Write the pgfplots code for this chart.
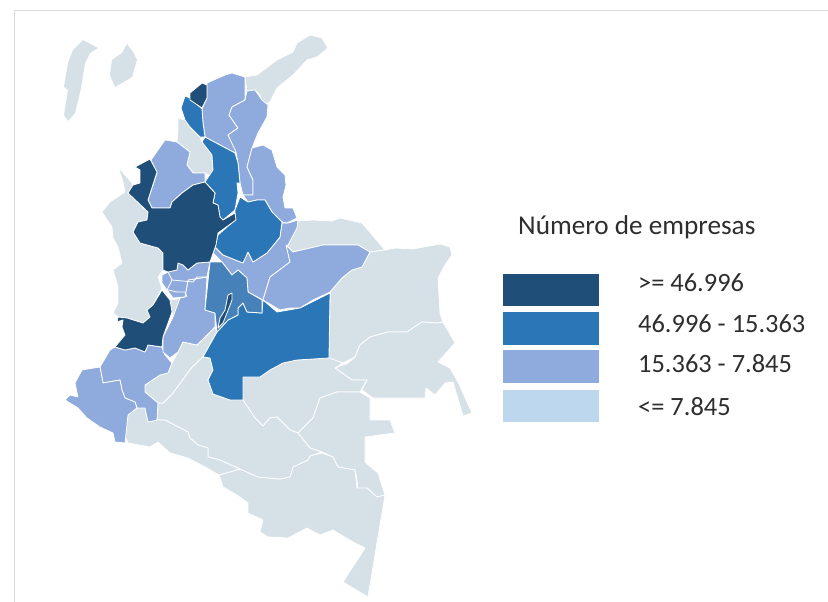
\documentclass[border=0pt]{standalone}
\usepackage{fontspec}
\setmainfont{Carlito}
\usepackage{pgfplots}
\pgfplotsset{compat=1.18}
\definecolor{cA}{HTML}{1F4E79}
\definecolor{cB}{HTML}{2B76B6}
\definecolor{cB2}{HTML}{4682B9}
\definecolor{cC}{HTML}{8FAADC}
\definecolor{cG}{HTML}{D6E0E7}
\definecolor{cL}{HTML}{BDD7EE}
\definecolor{fr}{HTML}{DADADA}
\pgfplotsset{
 reg/.style={draw=white,line width=0.8pt,line join=round,fill=#1,forget plot,mark=none},
 bnd/.style={draw=white,line width=0.8pt,line join=round,forget plot,mark=none},
 sw/.style={draw=none,fill=#1,forget plot,mark=none}}
\begin{document}
\begin{tikzpicture}
\begin{axis}[
 scale only axis,width=828pt,height=602pt,
 xmin=0,xmax=828,ymin=0,ymax=602,y dir=reverse,
 hide axis,clip=true]
% page area
\addplot[sw=white] coordinates {(0,0)(828,0)(828,602)(0,602)} --cycle;
% frame
\addplot[draw=fr,line width=0.8pt,forget plot,mark=none] coordinates {(14,602)(14,10)(828,10)};
% islands
\addplot[sw=cG] coordinates {(83,40)(98,48)(90,53)(85,63)(81,88)(75,113)(68,121)(64,115)(68,90)(64,87)(68,63)(73,50)} --cycle;
\addplot[sw=cG] coordinates {(127,44)(133,52)(137,60)(132,77)(115,87)(110,75)(112,60)(122,53)} --cycle;
% gray departments
\addplot[reg=cG] coordinates {(245,77)(257,75)(277,60)(293,52)(297,43)(310,35)(322,38)(328,48)(317,57)(307,60)(293,75)(277,88)(270,102)(263,105)(260,95)(255,90)(247,92)} --cycle;
\addplot[reg=cG] coordinates {(178,118)(185,120)(190,127)(200,137)(202,142)(212,155)(213,170)(212,177)(205,173)(193,173)(187,165)(190,152)(177,142)(178,130)} --cycle;
\addplot[reg=cG] coordinates {(118,167)(125,175)(132,183)(133,190)(128,193)(148,212)(147,220)(138,222)(133,232)(140,243)(158,248)(163,253)(163,270)(158,277)(162,288)(153,305)(147,310)(150,317)(143,323)(127,318)(118,317)(113,313)(118,303)(118,287)(113,270)(122,263)(118,247)(113,238)(112,227)(102,212)(110,202)(125,192)(123,182)} --cycle;
\addplot[reg=cG] coordinates {(298,221)(313,220)(332,221)(340,218)(362,223)(385,250)(370,252)(358,245)(323,245)(293,252)(286,245)(293,228)} --cycle;
\addplot[reg=cG] coordinates {(330,292)(342,278)(352,270)(362,267)(370,252)(385,250)(395,248)(413,249)(440,244)(450,247)(452,255)(445,265)(438,278)(440,313)(443,322)(437,323)(422,322)(407,332)(388,332)(370,337)(360,345)(355,357)(343,363)(329,359)} --cycle;
\addplot[reg=cG] coordinates {(443,322)(455,343)(438,362)(450,368)(458,382)(472,413)(463,416)(453,382)(445,383)(435,395)(426,388)(425,398)(373,398)(362,390)(367,380)(352,380)(335,368)(348,363)(355,357)(360,345)(370,337)(388,332)(407,332)(422,322)(437,323)} --cycle;
\addplot[reg=cG] coordinates {(243,377)(260,377)(270,370)(283,363)(297,360)(329,358)(343,363)(335,368)(352,380)(367,380)(360,392)(337,392)(320,398)(313,418)(298,433)(290,430)(277,417)(270,418)(263,426)(255,418)(243,400)} --cycle;
\addplot[reg=cG] coordinates {(320,398)(337,392)(360,392)(370,398)(370,420)(390,420)(395,433)(365,437)(365,462)(378,473)(385,495)(377,497)(367,488)(358,490)(357,480)(355,470)(338,467)(333,457)(322,452)(310,448)(298,433)(313,418)} --cycle;
\addplot[reg=cG] coordinates {(385,495)(368,597)(343,582)(365,548)(353,542)(333,530)(320,535)(307,528)(288,538)(268,537)(260,532)(263,520)(248,513)(248,503)(237,495)(223,487)(219,475)(240,469)(258,477)(280,479)(290,477)(293,467)(308,460)(310,456)(322,453)(333,457)(338,467)(355,470)(357,488)(367,488)(377,497)} --cycle;
\addplot[reg=cG] coordinates {(203,357)(210,358)(213,370)(208,380)(213,394)(230,400)(243,400)(255,418)(263,426)(270,418)(277,417)(290,430)(298,433)(310,448)(322,452)(310,456)(308,460)(293,467)(290,477)(280,479)(258,477)(240,469)(220,460)(208,457)(208,448)(198,445)(190,438)(188,432)(165,420)(157,420)(158,403)(163,403)(173,393)(192,367)} --cycle;
\addplot[reg=cG] coordinates {(183,342)(197,345)(215,327)(217,332)(203,357)(192,367)(173,393)(163,403)(158,403)(145,392)(145,385)(160,375)(168,373)(172,363)(178,352)} --cycle;
\addplot[reg=cG] coordinates {(137,408)(145,408)(148,422)(157,420)(165,420)(188,432)(190,438)(198,445)(208,448)(208,457)(220,460)(240,469)(219,475)(207,468)(188,458)(170,453)(158,442)(150,447)(128,443)(125,437)(128,413)(140,407)} --cycle;
\addplot[reg=cG] coordinates {(170,300)(182,298)(173,317)(172,312)} --cycle;
% light-medium departments
\addplot[reg=cC] coordinates {(225,75)(232,73)(245,77)(245,100)(232,107)(229,115)(238,128)(228,135)(237,150)(235,153)(220,145)(205,137)(203,123)(202,109)(207,98)(207,83)} --cycle;
\addplot[reg=cC] coordinates {(247,91)(255,90)(262,100)(268,105)(267,117)(258,133)(252,148)(247,167)(253,180)(253,195)(243,195)(240,183)(238,163)(236,152)(228,135)(238,128)(229,115)(232,107)(245,100)} --cycle;
\addplot[reg=cC] coordinates {(165,140)(177,142)(190,152)(187,165)(193,173)(205,173)(205,182)(193,185)(182,193)(172,202)(170,208)(152,208)(148,200)(157,173)(151,160)} --cycle;
\addplot[reg=cC] coordinates {(110,350)(115,347)(125,350)(135,348)(145,352)(148,345)(162,347)(165,355)(172,363)(168,373)(160,375)(145,385)(145,392)(158,403)(157,420)(148,422)(145,408)(137,408)(135,402)(125,398)(122,390)(120,380)(103,383)(100,367)} --cycle;
\addplot[reg=cC] coordinates {(100,367)(103,383)(120,380)(122,390)(125,398)(135,402)(137,408)(128,415)(125,443)(115,442)(113,433)(100,427)(87,418)(78,408)(65,400)(70,395)(78,397)(75,383)(82,370)} --cycle;
\addplot[reg=cC] coordinates {(188,280)(207,277)(205,310)(215,313)(215,327)(197,345)(183,342)(178,352)(170,358)(163,352)(163,337)(173,317)(180,298)(185,297)} --cycle;
\addplot[reg=cC] coordinates {(162,275)(168,272)(177,270)(178,263)(183,265)(188,270)(197,263)(210,262)(207,277)(188,280)(185,297)(173,298)(167,290)(162,283)} --cycle;
\addplot[reg=cC] coordinates {(298,220)(297,228)(287,247)(290,262)(270,277)(263,300)(248,292)(247,278)(238,270)(232,275)(222,262)(213,253)(215,247)(223,255)(243,263)(248,252)(253,262)(267,253)(280,237)(282,223)(288,223)} --cycle;
\addplot[reg=cC] coordinates {(263,145)(272,150)(277,167)(285,175)(286,185)(283,197)(285,208)(293,208)(297,218)(287,223)(282,222)(272,212)(265,200)(257,200)(248,202)(243,195)(253,195)(253,180)(247,167)(252,148)} --cycle;
\addplot[reg=cC] coordinates {(293,252)(323,245)(358,245)(370,252)(362,267)(352,270)(342,278)(330,292)(313,300)(300,308)(290,308)(280,310)(263,300)(270,277)(290,262)(286,245)} --cycle;
% mid blue
\addplot[reg=cB] coordinates {(185,96)(190,98)(202,109)(203,123)(205,137)(200,137)(190,127)(185,120)(181,108)} --cycle;
\addplot[reg=cB] coordinates {(205,137)(220,145)(235,153)(238,163)(240,183)(237,183)(238,193)(235,210)(223,220)(220,217)(218,205)(213,203)(215,193)(205,182)(213,170)(212,155)(202,142)} --cycle;
\addplot[reg=cB] coordinates {(240,197)(248,202)(257,200)(265,200)(272,212)(282,222)(280,237)(267,253)(253,262)(248,252)(243,263)(223,255)(215,247)(218,235)(235,220)(235,210)} --cycle;
\addplot[reg=cB] coordinates {(330,293)(329,358)(297,360)(283,363)(270,370)(260,377)(243,377)(243,400)(230,400)(213,394)(208,380)(213,370)(210,358)(203,357)(217,332)(228,320)(238,315)(238,308)(243,303)(247,312)(262,313)(263,300)(277,312)(300,308)} --cycle;
\addplot[reg=cB2] coordinates {(210,262)(222,262)(232,275)(238,270)(247,278)(248,292)(262,300)(262,313)(247,312)(243,303)(238,308)(238,315)(228,320)(217,332)(215,313)(205,310)} --cycle;
% dark
\addplot[reg=cA] coordinates {(190,93)(202,83)(207,85)(207,98)(202,108)(190,100)} --cycle;
\addplot[reg=cA] coordinates {(135,167)(150,159)(157,172)(148,200)(152,208)(170,208)(172,202)(182,193)(193,185)(205,182)(215,193)(213,203)(218,205)(220,217)(223,220)(235,213)(236,220)(218,233)(216,245)(210,262)(197,263)(188,270)(183,265)(178,263)(177,270)(168,272)(163,270)(163,253)(158,248)(140,243)(133,232)(138,222)(147,220)(148,212)(128,193)(133,185)(140,183)(140,170)} --cycle;
\addplot[reg=cA] coordinates {(162,290)(170,300)(172,312)(163,337)(162,347)(148,345)(145,352)(135,348)(125,350)(115,347)(125,335)(122,327)(123,320)(117,322)(118,317)(127,318)(143,323)(150,317)(147,310)(153,305)} --cycle;
\addplot[reg=cA] coordinates {(228,295)(232,293)(232,300)(227,313)(223,323)(218,328)(220,318)(225,310)(227,300)} --cycle;
% internal boundaries
\addplot[bnd] coordinates {(168,272)(172,280)(167,290)};
\addplot[bnd] coordinates {(172,280)(193,282)(197,277)(207,277)};
\addplot[bnd] coordinates {(168,290)(177,292)(185,292)(187,297)};
% legend swatches
\addplot[sw=cA] coordinates {(503,274)(599,274)(599,306)(503,306)} --cycle;
\addplot[sw=cB] coordinates {(503,312)(599,312)(599,345)(503,345)} --cycle;
\addplot[sw=cC] coordinates {(503,350)(599,350)(599,383)(503,383)} --cycle;
\addplot[sw=cL] coordinates {(503,390)(599,390)(599,422)(503,422)} --cycle;
% text
\begin{scope}[every node/.style={anchor=base west,inner sep=0pt,text=black!82}]
\node at (axis cs:518,234) {\fontsize{27.2}{30}\selectfont Número de empresas};
\node at (axis cs:638,291) {\fontsize{26.4}{30}\selectfont >= 46.996};
\node at (axis cs:638,332) {\fontsize{26.4}{30}\selectfont 46.996 - 15.363};
\node at (axis cs:638,372) {\fontsize{26.4}{30}\selectfont 15.363 - 7.845};
\node at (axis cs:638,415) {\fontsize{26.4}{30}\selectfont <= 7.845};
\end{scope}
\end{axis}
\end{tikzpicture}
\end{document}
